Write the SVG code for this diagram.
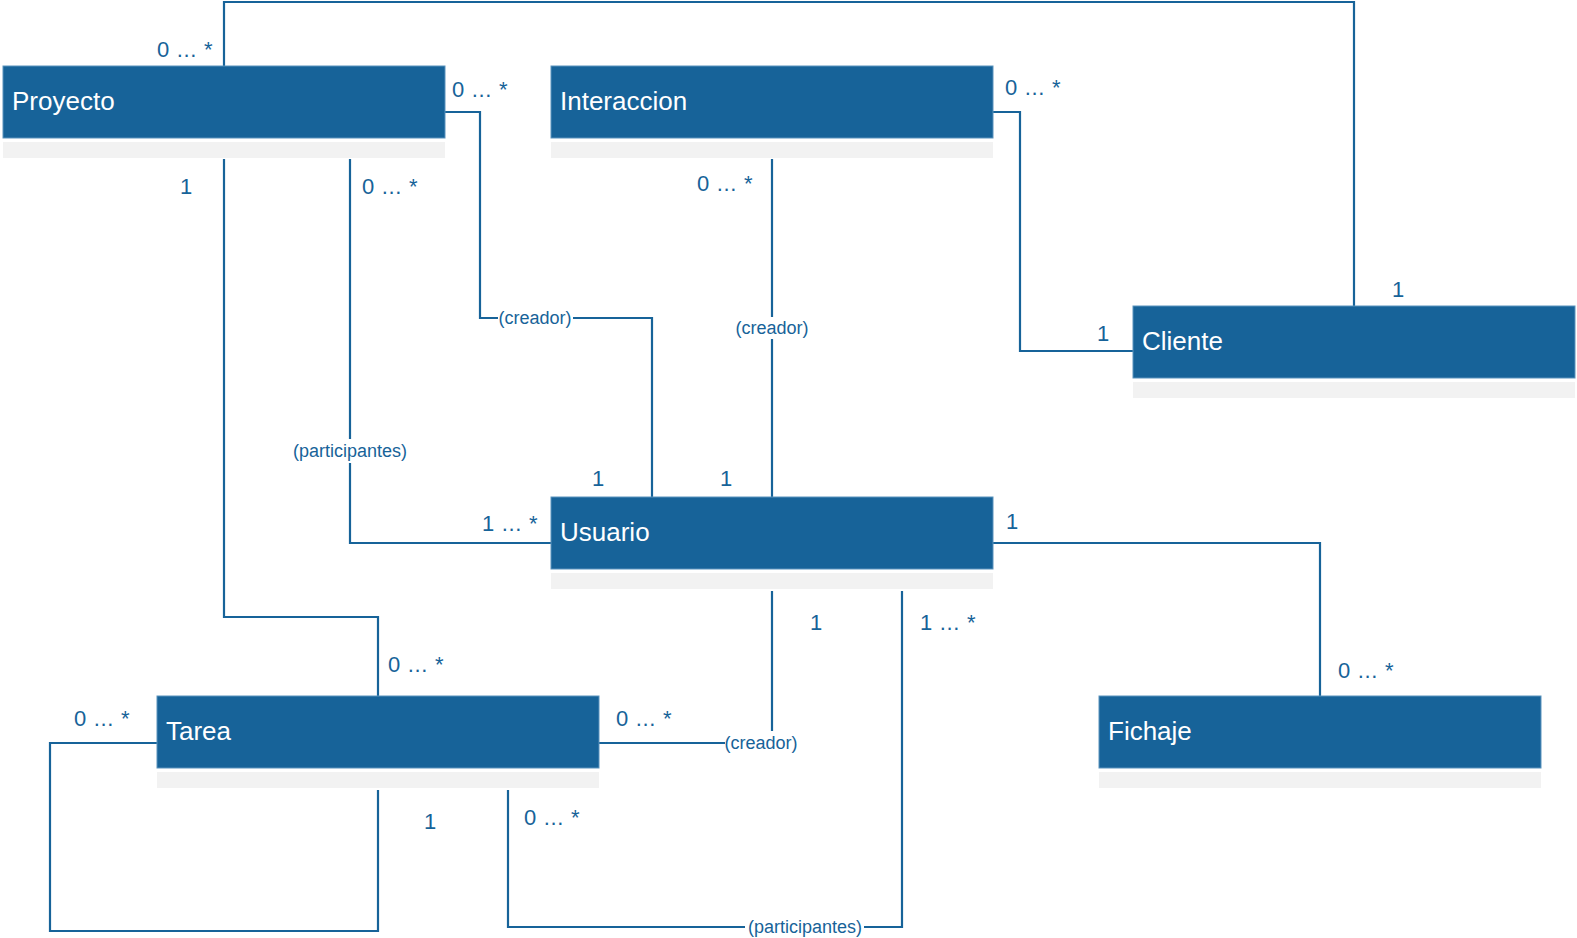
<svg xmlns="http://www.w3.org/2000/svg" width="1577" height="938" viewBox="0 0 1577 938">
<style>
.box{fill:#176399;stroke:#5b93bd;stroke-width:1}
.band{fill:#f2f2f2}
.name{font-family:"Liberation Sans",Arial,sans-serif;font-size:26px;fill:#ffffff}
.conn{fill:none;stroke:#176399;stroke-width:2.2}
.mult{font-family:"Liberation Sans",Arial,sans-serif;font-size:22px;fill:#176399;letter-spacing:0.7px}
.role{font-family:"Liberation Sans",Arial,sans-serif;font-size:18px;fill:#176399}
</style>
<rect width="1577" height="938" fill="#ffffff"/>
<g id="connectors">
<path class="conn" d="M224,66 V2 H1354 V306"/>
<path class="conn" d="M445,112 H480 V318 H498"/>
<path class="conn" d="M573,318 H652 V497"/>
<path class="conn" d="M350,159 V439"/>
<path class="conn" d="M350,463 V543 H551"/>
<path class="conn" d="M224,159 V617 H378 V696"/>
<path class="conn" d="M993,112 H1020 V351 H1133"/>
<path class="conn" d="M772,159 V317"/>
<path class="conn" d="M772,339 V497"/>
<path class="conn" d="M993,543 H1320 V696"/>
<path class="conn" d="M599,743 H725"/>
<path class="conn" d="M772,591 V731"/>
<path class="conn" d="M902,591 V927 H864"/>
<path class="conn" d="M745,927 H508 V790"/>
<path class="conn" d="M157,743 H50 V931 H378 V790"/>
<text class="role" x="535" y="324" text-anchor="middle">(creador)</text>
<text class="role" x="350" y="457" text-anchor="middle">(participantes)</text>
<text class="role" x="772" y="334" text-anchor="middle">(creador)</text>
<text class="role" x="761" y="749" text-anchor="middle">(creador)</text>
<text class="role" x="805" y="933" text-anchor="middle">(participantes)</text>
<text class="mult" x="157" y="57">0 ... *</text>
<text class="mult" x="452" y="97">0 ... *</text>
<text class="mult" x="180" y="194">1</text>
<text class="mult" x="362" y="194">0 ... *</text>
<text class="mult" x="1005" y="95">0 ... *</text>
<text class="mult" x="697" y="191">0 ... *</text>
<text class="mult" x="1392" y="297">1</text>
<text class="mult" x="1097" y="341">1</text>
<text class="mult" x="592" y="486">1</text>
<text class="mult" x="720" y="486">1</text>
<text class="mult" x="482" y="531">1 ... *</text>
<text class="mult" x="1006" y="529">1</text>
<text class="mult" x="1338" y="678">0 ... *</text>
<text class="mult" x="388" y="672">0 ... *</text>
<text class="mult" x="74" y="726">0 ... *</text>
<text class="mult" x="616" y="726">0 ... *</text>
<text class="mult" x="810" y="630">1</text>
<text class="mult" x="920" y="630">1 ... *</text>
<text class="mult" x="424" y="829">1</text>
<text class="mult" x="524" y="825">0 ... *</text>
</g>
<g id="Proyecto">
<rect class="box" x="3" y="66" width="442" height="72"/>
<rect class="band" x="3" y="142" width="442" height="16"/>
<text class="name" x="12" y="110">Proyecto</text>
</g>
<g id="Interaccion">
<rect class="box" x="551" y="66" width="442" height="72"/>
<rect class="band" x="551" y="142" width="442" height="16"/>
<text class="name" x="560" y="110">Interaccion</text>
</g>
<g id="Cliente">
<rect class="box" x="1133" y="306" width="442" height="72"/>
<rect class="band" x="1133" y="382" width="442" height="16"/>
<text class="name" x="1142" y="350">Cliente</text>
</g>
<g id="Usuario">
<rect class="box" x="551" y="497" width="442" height="72"/>
<rect class="band" x="551" y="573" width="442" height="16"/>
<text class="name" x="560" y="541">Usuario</text>
</g>
<g id="Tarea">
<rect class="box" x="157" y="696" width="442" height="72"/>
<rect class="band" x="157" y="772" width="442" height="16"/>
<text class="name" x="166" y="740">Tarea</text>
</g>
<g id="Fichaje">
<rect class="box" x="1099" y="696" width="442" height="72"/>
<rect class="band" x="1099" y="772" width="442" height="16"/>
<text class="name" x="1108" y="740">Fichaje</text>
</g>
</svg>
